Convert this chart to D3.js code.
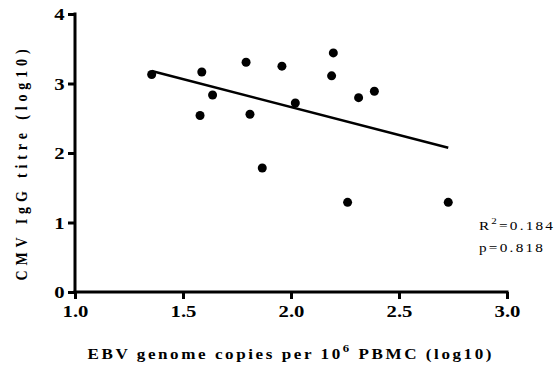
<!DOCTYPE html>
<html><head><meta charset="utf-8">
<script src="https://cdn.jsdelivr.net/npm/d3@7"></script>
<style>body{margin:0;background:#fff}</style>
</head><body><svg id="c" width="557" height="371"></svg>
<script>
const ebv = [1.355,1.587,1.579,1.637,1.792,1.810,1.867,1.958,2.196,2.188,2.020,2.313,2.386,2.262,2.728];
const cmv = [3.13,3.165,2.54,2.834,3.305,2.557,1.784,3.25,3.44,3.11,2.72,2.796,2.888,1.29,1.29];
const fitX = [1.355,2.728];
const fitY = [3.18,2.075];
const xTicks = [1.0,1.5,2.0,2.5,3.0];
const yTicks = [0,1,2,3,4];
const xTitle = ["EBV genome copies per 10","6"," PBMC (log10)"];
const yTitle = "CMV IgG titre (log10)";
const rLine = ["R","2","=0.184"];
const pLine = "p=0.818";

const FONT = '"Liberation Serif"';
const SX = 1.22;
const svg = d3.select("#c");
const x = d3.scaleLinear().domain([1,3]).range([75,507]);
const y = d3.scaleLinear().domain([0,4]).range([292,14]);

function spaceTo(textSel, target, scale){
  const node = textSel.node();
  textSel.style("letter-spacing","0px");
  const w0 = node.getComputedTextLength();
  const n = node.textContent.length;
  const s = (target/scale - w0)/(n-1);
  textSel.style("letter-spacing", s+"px");
  return s;
}

const xa = svg.append("g").attr("transform","translate(0,292)")
  .call(d3.axisBottom(x).tickValues(xTicks).tickFormat(d3.format(".1f")).tickSize(7).tickSizeOuter(0));
const ya = svg.append("g").attr("transform","translate(75,0)")
  .call(d3.axisLeft(y).tickValues(yTicks).tickFormat(d3.format("d")).tickSize(7).tickSizeOuter(0));
[xa,ya].forEach(g=>{
  g.attr("font-family",null);
  g.select(".domain").attr("stroke","#000").attr("stroke-width",3);
  g.selectAll(".tick line").attr("stroke","#000").attr("stroke-width",3);
  g.selectAll(".tick text").style("font-family",FONT).attr("font-size",17).attr("font-weight","bold").attr("fill","#000");
});
xa.selectAll(".tick text").attr("y",25).attr("dy",0).attr("transform",`scale(${SX},1)`);
ya.selectAll(".tick text").attr("x",-10.5/SX).attr("dy","0.34em").attr("transform",`scale(${SX},1)`);
xa.select(".domain").attr("d",`M${75-1.5},0H${507+1.5}`);
ya.select(".domain").attr("d",`M0,${292+1.5}V${14-1.5}`);

svg.append("line").attr("x1",x(fitX[0])).attr("y1",y(fitY[0])).attr("x2",x(fitX[1])).attr("y2",y(fitY[1]))
  .attr("stroke","#000").attr("stroke-width",2.5);

svg.selectAll("circle.pt").data(ebv).join("circle").attr("class","pt")
  .attr("cx",d=>x(d)).attr("cy",(d,i)=>y(cmv[i])).attr("r",4.5).attr("fill","#000");

const gx = svg.append("g").attr("transform",`translate(87.5,359) scale(${SX},1)`);
const xt = gx.append("text").style("font-family",FONT).attr("font-size",14).attr("font-weight","bold");
xt.append("tspan").text(xTitle[0]);
xt.append("tspan").attr("font-size",10.5).attr("dy",-7).text(xTitle[1]);
xt.append("tspan").attr("dy",7).text(xTitle[2]);
spaceTo(xt, 404, SX);

const gy = svg.append("g").attr("transform",`translate(27,162.5) scale(${SX},1) rotate(-90)`);
const yt = gy.append("text").attr("text-anchor","middle").style("font-family",FONT).attr("font-size",14).attr("font-weight","bold").text(yTitle);
spaceTo(yt, 231, 1);

const gr = svg.append("g").attr("transform",`translate(479,230) scale(${SX},1)`);
const rt = gr.append("text").style("font-family",FONT).attr("font-size",12.5);
rt.append("tspan").text(rLine[0]);
rt.append("tspan").attr("font-size",9).attr("dy",-6).text(rLine[1]);
rt.append("tspan").attr("dy",6).text(rLine[2]);
spaceTo(rt, 74, SX);
const gp = svg.append("g").attr("transform",`translate(479,252) scale(${SX},1)`);
const pt = gp.append("text").style("font-family",FONT).attr("font-size",12.5).text(pLine);
spaceTo(pt, 64, SX);
</script></body></html>
